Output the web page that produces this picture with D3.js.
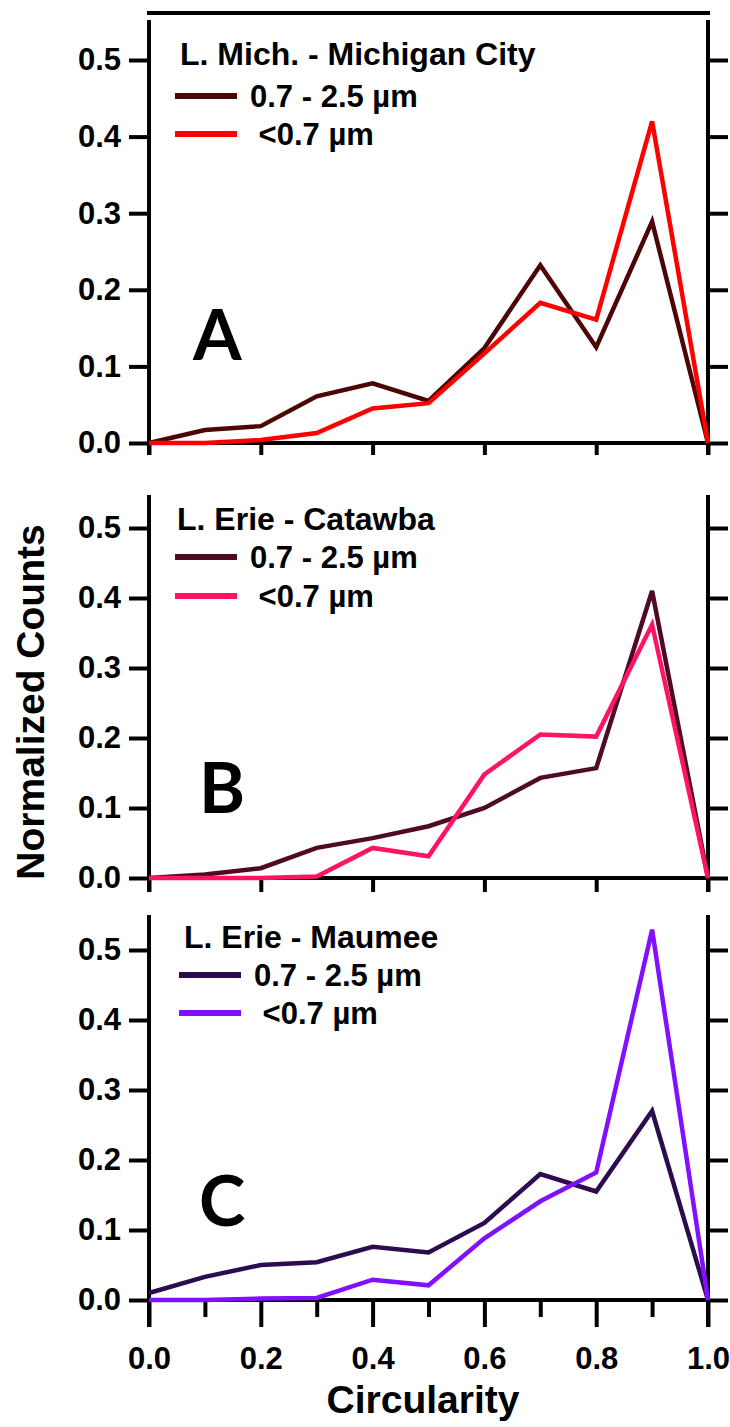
<!DOCTYPE html>
<html>
<head>
<meta charset="utf-8">
<script src="https://cdn.jsdelivr.net/npm/d3@7"></script>
<style>
  body { margin: 0; background: #fff; }
  svg { display: block; font-family: "Liberation Sans", Arial, sans-serif; }
  .tick text { font-weight: bold; fill: #000; }
</style>
</head>
<body>
<div id="chart"></div>
<script>
// circularity bins (x values)
var circularity = [0.0, 0.1, 0.2, 0.3, 0.4, 0.5, 0.6, 0.7, 0.8, 0.9, 1.0];

// L. Mich. - Michigan City
var michiganCoarse = [0, 0.017, 0.022, 0.061, 0.078, 0.055, 0.124, 0.232, 0.125, 0.289, 0];
var michiganFine   = [0, 0.000, 0.004, 0.013, 0.045, 0.052, 0.117, 0.183, 0.161, 0.420, 0];

// L. Erie - Catawba
var catawbaCoarse = [0, 0.005, 0.014, 0.043, 0.057, 0.074, 0.100, 0.143, 0.157, 0.410, 0];
var catawbaFine   = [0, 0.000, 0.000, 0.002, 0.043, 0.031, 0.148, 0.205, 0.202, 0.362, 0];

// L. Erie - Maumee
var maumeeCoarse = [0.010, 0.033, 0.050, 0.054, 0.076, 0.068, 0.110, 0.180, 0.155, 0.270, 0];
var maumeeFine   = [0, 0.000, 0.002, 0.003, 0.029, 0.021, 0.088, 0.141, 0.182, 0.529, 0];

var sites = ["L. Mich. - Michigan City", "L. Erie - Catawba", "L. Erie - Maumee"];
var sizeLabels = ["0.7 - 2.5 \u00b5m", " <0.7 \u00b5m"];
var panelLetters = ["A", "B", "C"];
var yTickValues = [0, 0.1, 0.2, 0.3, 0.4, 0.5];
var xMajorTicks = [0, 0.2, 0.4, 0.6, 0.8, 1.0];
var xMinorTicks = [0.1, 0.3, 0.5, 0.7, 0.9];

var seriesByPanel = [
    [michiganCoarse, michiganFine],
    [catawbaCoarse, catawbaFine],
    [maumeeCoarse, maumeeFine]
];

// layout of each panel (pixels)
var panels = [
    {y0: 443, y5: 60, top: 20, tickLen: 12, minor: false, colors: ["#4c0606", "#ff0000"],
     titleY: 65, rowY: [96, 134], titleX: 180, lineX: 175, textX: 250, letterY: 360, letterX: 193},
    {y0: 878, y5: 528, top: 495, tickLen: 14, minor: false, colors: ["#4f0a26", "#ff1464"],
     titleY: 530, rowY: [557, 596], titleX: 177, lineX: 175, textX: 250, letterY: 813, letterX: 199},
    {y0: 1300, y5: 950, top: 915, tickLen: 27, minor: true, colors: ["#2c0b4f", "#8010ff"],
     titleY: 948, rowY: [975, 1013], titleX: 184, lineX: 179, textX: 254, letterY: 1226, letterX: 199}
];

var width = 730, height = 1427;

var svg = d3.select("#chart").append("svg")
    .attr("width", width)
    .attr("height", height);

var x = d3.scaleLinear()
    .domain([0, 1])
    .range([149, 708]);

// line across the very top
svg.append("line")
    .attr("x1", 147).attr("x2", 710)
    .attr("y1", 13).attr("y2", 13)
    .attr("stroke", "#000").attr("stroke-width", 4);

panels.forEach(function(p, i) {

    var y = d3.scaleLinear()
        .domain([0, 0.5])
        .range([p.y0, p.y5]);

    var g = svg.append("g");

    // left y axis
    var left = g.append("g")
        .attr("transform", "translate(" + x(0) + ",0)")
        .call(d3.axisLeft(y).tickValues(yTickValues).tickSize(20).tickPadding(8)
            .tickFormat(d3.format(".1f")));
    left.select(".domain").remove();
    left.selectAll("line").attr("stroke", "#000").attr("stroke-width", 4);
    left.selectAll("text").style("font-size", "31px");

    // right y axis (ticks only)
    var right = g.append("g")
        .attr("transform", "translate(" + x(1) + ",0)")
        .call(d3.axisRight(y).tickValues(yTickValues).tickSize(20).tickFormat(""));
    right.select(".domain").remove();
    right.selectAll("line").attr("stroke", "#000").attr("stroke-width", 4);

    // x axis
    var bottom = g.append("g")
        .attr("transform", "translate(0," + y(0) + ")")
        .call(d3.axisBottom(x).tickValues(xMajorTicks).tickSize(p.tickLen).tickPadding(20)
            .tickFormat(p.minor ? d3.format(".1f") : ""));
    bottom.select(".domain").remove();
    bottom.selectAll("line").attr("stroke", "#000").attr("stroke-width", 4);
    bottom.selectAll("text").style("font-size", "31px");

    if (p.minor) {
        var minor = g.append("g")
            .attr("transform", "translate(0," + y(0) + ")")
            .call(d3.axisBottom(x).tickValues(xMinorTicks).tickSize(17).tickFormat(""));
        minor.select(".domain").remove();
        minor.selectAll("line").attr("stroke", "#000").attr("stroke-width", 4);
    }

    // frame lines
    g.append("line")
        .attr("x1", x(0)).attr("x2", x(1))
        .attr("y1", y(0)).attr("y2", y(0))
        .attr("stroke", "#000").attr("stroke-width", 4);
    [0, 1].forEach(function(v) {
        g.append("line")
            .attr("x1", x(v)).attr("x2", x(v))
            .attr("y1", p.top).attr("y2", y(0) + p.tickLen)
            .attr("stroke", "#000").attr("stroke-width", 4);
    });

    // data lines
    var line = d3.line()
        .x(function(d, k) { return x(circularity[k]); })
        .y(function(d) { return y(d); });

    seriesByPanel[i].forEach(function(vals, s) {
        g.append("path")
            .datum(vals)
            .attr("d", line)
            .attr("fill", "none")
            .attr("stroke", p.colors[s])
            .attr("stroke-width", 4.5)
            .attr("stroke-linejoin", "miter");
    });

    // legend
    g.append("text")
        .attr("x", p.titleX).attr("y", p.titleY)
        .style("font-size", "32px").style("font-weight", "bold")
        .text(sites[i]);

    sizeLabels.forEach(function(lbl, s) {
        g.append("line")
            .attr("x1", p.lineX).attr("x2", p.lineX + 62)
            .attr("y1", p.rowY[s]).attr("y2", p.rowY[s])
            .attr("stroke", p.colors[s]).attr("stroke-width", 6);
        g.append("text")
            .attr("x", p.textX).attr("y", p.rowY[s] + 11)
            .style("font-size", "31px").style("font-weight", "bold")
            .style("white-space", "pre")
            .text(lbl);
    });

    // panel letter
    g.append("text")
        .attr("x", p.letterX).attr("y", p.letterY)
        .style("font-family", "Lato, 'Open Sans', sans-serif")
        .style("font-size", "70px").style("font-weight", "bold")
        .text(panelLetters[i]);
});

// axis titles
svg.append("text")
    .attr("transform", "translate(44,702) rotate(-90)")
    .attr("text-anchor", "middle")
    .style("font-size", "39px").style("font-weight", "bold")
    .text("Normalized Counts");

svg.append("text")
    .attr("x", 423).attr("y", 1413)
    .attr("text-anchor", "middle")
    .style("font-size", "39px").style("font-weight", "bold")
    .text("Circularity");
</script>
</body>
</html>
